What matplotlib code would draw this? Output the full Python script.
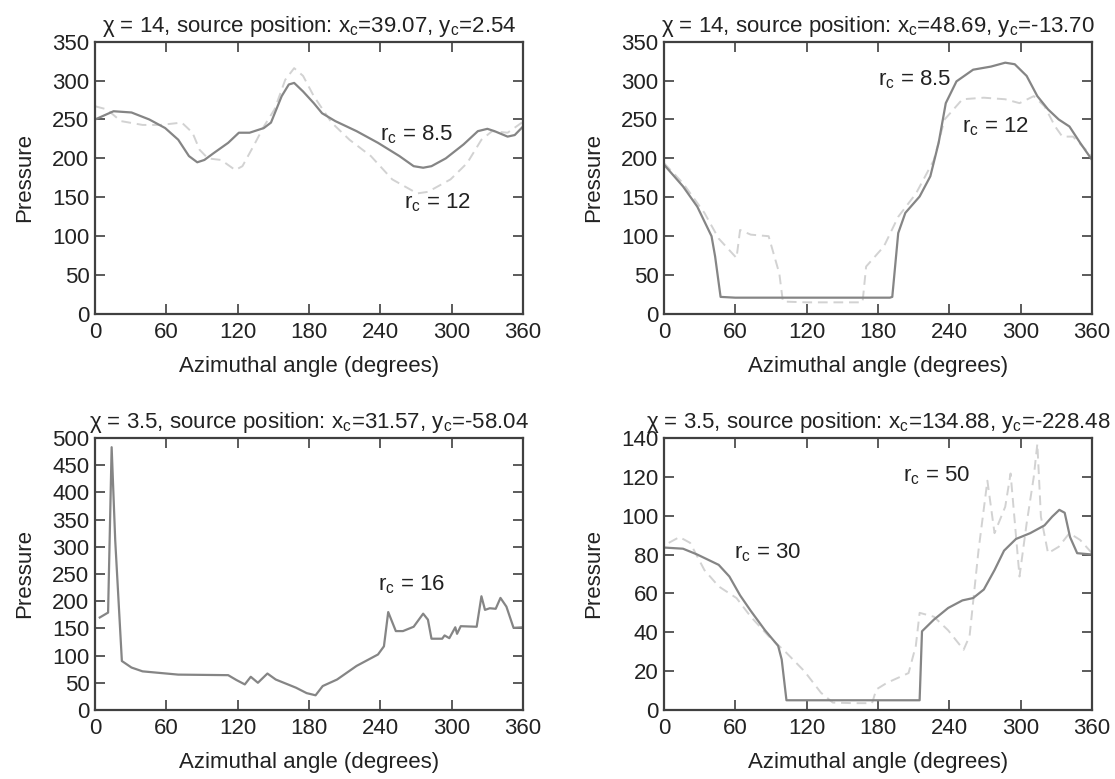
import numpy as np
import matplotlib
matplotlib.use("Agg")
import matplotlib.pyplot as plt

plt.rcParams['font.family'] = ['Liberation Sans', 'DejaVu Sans']
plt.rcParams['mathtext.fontset'] = 'custom'
plt.rcParams['mathtext.rm'] = 'Liberation Sans'
plt.rcParams['mathtext.it'] = 'Liberation Sans:italic'
FS = 16

# panel 1 : chi = 14, xc=39.07, yc=2.54
a1_x = [0, 15.6, 30.7, 45.7, 59, 70, 79, 86, 92, 100, 112, 121, 130, 142, 148, 157, 163, 167.5,
        175, 184, 191, 202, 220, 238, 256, 268, 276, 283, 295, 310, 322, 330, 336, 347, 353, 360]
a1_y = [250, 260.6, 259, 250, 239, 224, 203, 195, 198, 207, 220, 233, 233, 239, 246, 280, 295, 297,
        286, 271, 258, 248, 235, 220, 203, 190, 188, 190, 200, 218, 235, 238, 235, 228, 230, 241]
b1_x = [0, 10, 21.6, 40, 55, 73, 82, 88, 95, 106, 118, 124, 133, 142, 151, 160, 167.5, 175, 184,
        199, 214, 232, 250, 271, 280, 299, 313, 325, 334, 347, 359]
b1_y = [267, 263, 248, 243, 243, 246, 233, 211, 200, 198, 185, 190, 215, 241, 263, 301, 316, 306, 280,
        246, 224, 203, 173, 155, 157, 173, 194, 224, 235, 233, 246]

# panel 2 : chi = 14, xc=48.69, yc=-13.70
a2_x = [0, 16, 28, 40, 43, 47.6, 60, 100, 150, 190, 192, 197, 203, 215, 224, 231, 237, 246, 260,
        275, 287, 295, 305, 314, 323, 332, 341, 350, 360]
a2_y = [192, 164, 138, 100, 74, 22, 21, 21, 21, 21, 22, 104, 130, 151, 177, 220, 271, 299, 314,
        318, 323, 321, 306, 280, 263, 250, 241, 220, 198]
b2_x = [0, 16, 34, 46, 61, 64, 73, 88, 97, 100, 120, 145, 167, 170, 185, 197, 212, 227, 236, 251,
        269, 287, 299, 311, 320, 329, 335, 344, 360]
b2_y = [194, 168, 130, 97, 72, 108, 102, 100, 52, 16, 15, 15, 15, 61, 87, 125, 155, 198, 250, 276,
        278, 276, 271, 280, 267, 241, 228, 228, 203]

# panel 3 : chi = 3.5, xc=31.57, yc=-58.04
a3_x = [4, 11, 14, 17, 22.6, 30.7, 40, 70, 112, 119, 126, 131, 137, 145, 152, 169, 178, 185.5,
        191.5, 203.6, 220, 238, 243, 246.6, 253, 259, 268, 276, 280, 283, 292, 294, 298, 303, 304.5,
        307.6, 321, 325, 328, 332, 337, 341, 346, 352, 360]
a3_y = [170, 179, 483, 312, 90, 78, 71, 65, 64, 55, 47, 61, 50, 67, 56, 41, 31, 27,
        44, 56, 81, 102, 117, 180, 145, 145, 153, 177, 166, 131, 131, 137, 132, 152, 140,
        154, 153, 209, 184, 187, 186, 206, 190, 151, 152]

# panel 4 : chi = 3.5, xc=134.88, yc=-228.48
a4_x = [0, 16, 28, 46, 55, 64, 73, 85, 96, 99, 103, 150, 212, 215, 217, 227, 239, 251, 260, 269,
        278, 286, 296, 308, 320, 326.5, 332.5, 337, 341.5, 347.5, 360]
a4_y = [83.6, 83, 80, 74.7, 68.7, 59, 51, 41, 33, 26, 5, 5, 5, 5, 40.5, 46.5, 52.5, 56.4, 57.6, 62,
        72, 82, 88, 91, 95, 99.5, 103, 101.5, 89, 80.7, 80]
b4_x = [4, 13, 22, 34, 46, 61, 73, 88, 103, 118, 132, 142, 160, 175, 178.6, 187.6, 205.7, 211.8,
        215, 227, 239, 252, 257, 264.5, 272, 278, 287, 291.5, 299, 305, 311, 314, 317, 323, 332,
        341, 350, 360]
b4_y = [86, 89, 86, 72, 63.6, 57.6, 48, 38, 29.4, 20, 8.9, 3.8, 3.5, 3.5, 10.6, 14, 19, 33,
        50, 48, 41, 31, 38, 82, 118, 91, 104.6, 121.7, 68.7, 96, 120, 137, 99.5, 80.7, 84,
        91, 87.5, 80.7]

titles = [r"χ = 14, source position: x$_\mathrm{c}$=39.07, y$_\mathrm{c}$=2.54",
          r"χ = 14, source position: x$_\mathrm{c}$=48.69, y$_\mathrm{c}$=-13.70",
          r"χ = 3.5, source position: x$_\mathrm{c}$=31.57, y$_\mathrm{c}$=-58.04",
          r"χ = 3.5, source position: x$_\mathrm{c}$=134.88, y$_\mathrm{c}$=-228.48"]
ymax = [350, 350, 500, 140]
ystep = [50, 50, 50, 20]

solid_c = "#858585"
dash_c = "#d2d2d2"
frame_c = "#404040"
text_c = "#222222"

fig = plt.figure(figsize=(11.15, 7.79), dpi=100)
boxes = [[0.0852, 0.5969, 0.3839, 0.3496],
         [0.5955, 0.5969, 0.3839, 0.3496],
         [0.0852, 0.0886, 0.3839, 0.3492],
         [0.5955, 0.0886, 0.3839, 0.3492]]
axes = [fig.add_axes(b) for b in boxes]

axes[0].plot(b1_x, b1_y, color=dash_c, lw=1.4, dashes=(5, 3))
axes[0].plot(a1_x, a1_y, color=solid_c, lw=1.6)
axes[1].plot(b2_x, b2_y, color=dash_c, lw=1.4, dashes=(5, 3))
axes[1].plot(a2_x, a2_y, color=solid_c, lw=1.6)
axes[2].plot(a3_x, a3_y, color=solid_c, lw=1.6)
axes[3].plot(b4_x, b4_y, color=dash_c, lw=1.4, dashes=(5, 3))
axes[3].plot(a4_x, a4_y, color=solid_c, lw=1.6)

# curve labels
axes[0].text(240, 231, r"r$_\mathrm{c}$ = 8.5", va="center", fontsize=FS, color=text_c)
axes[0].text(260, 143, r"r$_\mathrm{c}$ = 12", va="center", fontsize=FS, color=text_c)
axes[1].text(180, 301, r"r$_\mathrm{c}$ = 8.5", va="center", fontsize=FS, color=text_c)
axes[1].text(251, 241, r"r$_\mathrm{c}$ = 12", va="center", fontsize=FS, color=text_c)
axes[2].text(238, 230, r"r$_\mathrm{c}$ = 16", va="center", fontsize=FS, color=text_c)
axes[3].text(201, 120.5, r"r$_\mathrm{c}$ = 50", va="center", fontsize=FS, color=text_c)
axes[3].text(59, 80.7, r"r$_\mathrm{c}$ = 30", va="center", fontsize=FS, color=text_c)

for i, ax in enumerate(axes):
    ax.set_xlim(0, 360)
    ax.set_ylim(0, ymax[i])
    ax.set_xticks(np.arange(0, 361, 60))
    ax.set_yticks(np.arange(0, ymax[i] + 1, ystep[i]))
    ax.tick_params(direction="in", length=7, width=1.2, color=frame_c,
                   top=True, right=True, labelsize=FS, labelcolor=text_c)
    ax.tick_params(axis="x", pad=6)
    ax.tick_params(axis="y", pad=4)
    for s in ax.spines.values():
        s.set_color(frame_c)
        s.set_linewidth(1.6)
    ax.set_title(titles[i], fontsize=FS, pad=7, color=text_c)
    ax.set_xlabel("Azimuthal angle (degrees)", fontsize=FS, labelpad=9, color=text_c)
    ax.set_ylabel("Pressure", fontsize=FS, labelpad=12, color=text_c)

plt.savefig("out.png", dpi=100)
